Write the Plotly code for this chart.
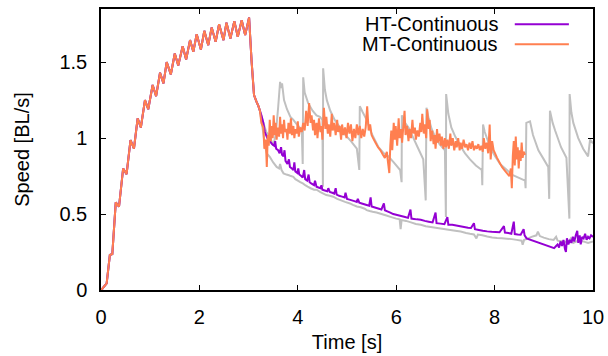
import plotly.graph_objects as go

# Shared acceleration phase (all runs identical until ~3.2 s)
ramp_t = [0.0, 0.03, 0.115, 0.18, 0.23, 0.30, 0.366, 0.45, 0.52, 0.60, 0.67, 0.745, 0.81,
          0.894, 0.96, 1.05, 1.12, 1.20, 1.27, 1.335, 1.42, 1.50, 1.57, 1.66, 1.73, 1.81,
          1.876, 1.945, 2.03, 2.10, 2.18, 2.25, 2.33, 2.40, 2.49, 2.55, 2.63, 2.71, 2.78,
          2.86, 2.93, 3.01, 3.06, 3.11, 3.16, 3.20, 3.23]
ramp_v = [0.0, 0.01, 0.044, 0.23, 0.237, 0.577, 0.548, 0.80, 0.763, 0.987, 0.93, 1.13, 1.07,
          1.25, 1.19, 1.35, 1.276, 1.43, 1.36, 1.50, 1.42, 1.557, 1.478, 1.605, 1.518, 1.645,
          1.568, 1.684, 1.583, 1.706, 1.612, 1.728, 1.634, 1.75, 1.645, 1.76, 1.656, 1.77, 1.667,
          1.776, 1.678, 1.794, 1.51, 1.283, 1.24, 1.21, 1.18]

# HT-Continuous (after split)
ht_t = [3.26, 3.30, 3.33, 3.38, 3.43, 3.48, 3.52, 3.54, 3.56, 3.60, 3.63, 3.66, 3.68, 3.71,
        3.73, 3.75, 3.79, 3.82, 3.84, 3.88, 3.91, 3.93, 3.95, 3.99, 4.01, 4.03, 4.07, 4.10,
        4.13, 4.15, 4.19, 4.22, 4.24, 4.28, 4.33, 4.35, 4.38, 4.42, 4.46, 4.48, 4.50, 4.55,
        4.60, 4.62, 4.65, 4.70, 4.74, 4.77, 4.79, 4.84, 4.90, 4.95, 4.97, 5.00, 5.05, 5.10,
        5.15, 5.20, 5.22, 5.25, 5.30, 5.35, 5.40, 5.45, 5.48, 5.50, 5.55, 5.60, 5.65, 5.70,
        5.75, 5.77, 5.82, 5.88, 5.94, 6.00, 6.06, 6.12, 6.18, 6.24, 6.29, 6.31, 6.36, 6.42,
        6.50, 6.58, 6.66, 6.74, 6.80, 6.82, 6.90, 6.98, 7.04, 7.06, 7.14, 7.22, 7.30, 7.38,
        7.46, 7.52, 7.58, 7.60, 7.68, 7.76, 7.85, 7.94, 8.02, 8.10, 8.19, 8.21, 8.28, 8.34,
        8.39, 8.41, 8.47, 8.53, 8.59, 8.61, 8.65, 9.21, 9.25, 9.28, 9.31, 9.34, 9.37, 9.40,
        9.43, 9.45, 9.47, 9.50, 9.53, 9.56, 9.59, 9.62, 9.65, 9.68, 9.70, 9.73, 9.75, 9.78,
        9.81, 9.84, 9.87, 9.90, 9.93, 9.96, 10.0]
ht_v = [1.15, 1.10, 1.04, 1.00, 0.98, 0.96, 0.95, 0.98, 0.93, 0.92, 0.90, 0.94, 0.89, 0.88,
        0.92, 0.85, 0.83, 0.86, 0.81, 0.80, 0.79, 0.84, 0.78, 0.77, 0.80, 0.76, 0.75, 0.74,
        0.79, 0.73, 0.72, 0.76, 0.71, 0.70, 0.69, 0.72, 0.68, 0.675, 0.67, 0.69, 0.66, 0.655,
        0.65, 0.67, 0.645, 0.64, 0.635, 0.67, 0.628, 0.62, 0.615, 0.61, 0.64, 0.60, 0.595, 0.59,
        0.585, 0.58, 0.60, 0.575, 0.57, 0.565, 0.56, 0.555, 0.61, 0.55, 0.545, 0.54, 0.535, 0.53,
        0.57, 0.525, 0.518, 0.51, 0.50, 0.495, 0.49, 0.485, 0.48, 0.475, 0.53, 0.47, 0.468, 0.465,
        0.463, 0.455, 0.45, 0.445, 0.51, 0.44, 0.437, 0.433, 0.48, 0.43, 0.43, 0.425, 0.42, 0.415,
        0.41, 0.408, 0.44, 0.40, 0.395, 0.39, 0.386, 0.383, 0.382, 0.38, 0.42, 0.378, 0.375, 0.37,
        0.45, 0.368, 0.365, 0.364, 0.40, 0.36, 0.34, 0.276, 0.29, 0.30, 0.28, 0.32, 0.29, 0.33,
        0.27, 0.25, 0.34, 0.30, 0.33, 0.31, 0.35, 0.32, 0.36, 0.39, 0.31, 0.36, 0.30, 0.35,
        0.34, 0.37, 0.33, 0.35, 0.34, 0.36, 0.35]

# MT-Continuous (after split)
mt_t = [3.26, 3.30, 3.32, 3.35, 3.37, 3.39, 3.41, 3.43, 3.45, 3.47, 3.49, 3.51, 3.53, 3.55,
        3.57, 3.59, 3.62, 3.64, 3.66, 3.68, 3.70, 3.72, 3.74, 3.77, 3.79, 3.81, 3.84, 3.86,
        3.88, 3.91, 3.93, 3.95, 3.98, 4.00, 4.02, 4.05, 4.08, 4.11, 4.14, 4.17, 4.20, 4.23,
        4.26, 4.28, 4.31, 4.33, 4.35, 4.38, 4.40, 4.43, 4.46, 4.48, 4.50, 4.53, 4.56, 4.58,
        4.61, 4.63, 4.66, 4.69, 4.71, 4.74, 4.77, 4.80, 4.82, 4.85, 4.88, 4.90, 4.93, 4.96,
        4.99, 5.02, 5.05, 5.08, 5.11, 5.14, 5.17, 5.20, 5.23, 5.26, 5.29, 5.32, 5.35, 5.38,
        5.41, 5.44, 5.47, 5.50, 5.53, 5.58, 5.63, 5.68, 5.73, 5.77, 5.81, 5.83, 5.86, 5.88,
        5.90, 5.92, 5.95, 5.97, 5.99, 6.02, 6.05, 6.07, 6.10, 6.12, 6.15, 6.17, 6.19, 6.22,
        6.25, 6.27, 6.30, 6.33, 6.35, 6.38, 6.40, 6.43, 6.46, 6.49, 6.51, 6.53, 6.56, 6.58,
        6.61, 6.63, 6.66, 6.68, 6.70, 6.73, 6.76, 6.78, 6.80, 6.83, 6.85, 6.88, 6.91, 6.93,
        6.96, 6.99, 7.01, 7.04, 7.07, 7.10, 7.12, 7.15, 7.18, 7.21, 7.23, 7.26, 7.29, 7.31,
        7.34, 7.37, 7.40, 7.43, 7.46, 7.49, 7.52, 7.55, 7.58, 7.61, 7.64, 7.67, 7.70, 7.73,
        7.76, 7.78, 7.81, 7.84, 7.87, 7.90, 7.92, 7.95, 7.98, 8.01, 8.05, 8.10, 8.15, 8.20,
        8.25, 8.30, 8.33, 8.35, 8.37, 8.39, 8.41, 8.43, 8.45, 8.47, 8.49, 8.51, 8.53, 8.55,
        8.57, 8.59, 8.62]
mt_v = [1.10, 1.07, 0.93, 0.99, 0.81, 1.02, 0.95, 1.12, 0.98, 1.08, 1.00, 1.15, 1.02, 1.10,
        0.99, 1.07, 1.01, 1.14, 1.03, 1.09, 1.00, 1.12, 1.04, 1.06, 0.99, 1.10, 1.03, 1.13,
        1.02, 1.08, 1.00, 1.06, 1.03, 1.11, 1.01, 1.07, 1.04, 1.10, 1.05, 1.18, 1.08, 1.23,
        1.10, 1.15, 1.05, 1.12, 1.02, 1.10, 1.00, 1.13, 1.04, 1.08, 0.99, 1.20, 1.06, 1.14,
        1.03, 1.09, 1.01, 1.16, 1.05, 1.10, 1.02, 1.12, 1.04, 1.08, 0.99, 1.09, 1.02, 1.07,
        1.00, 1.10, 1.03, 1.09, 0.98, 1.06, 1.00, 1.09, 1.02, 1.08, 1.00, 1.06, 1.01, 1.07,
        1.21, 1.05, 1.09, 1.02, 1.00, 0.97, 0.94, 0.92, 0.89, 0.87, 0.91, 0.85, 0.77, 0.95,
        1.05, 0.92, 1.10, 0.99, 1.08, 0.95, 1.13, 1.00, 1.06, 0.97, 1.10, 1.18, 1.02, 1.08,
        0.98, 1.06, 1.00, 1.12, 1.03, 1.07, 0.99, 1.05, 1.01, 1.10, 1.04, 1.16, 1.03, 1.09,
        1.00, 1.19, 1.06, 1.12, 0.98, 1.05, 0.96, 1.02, 0.93, 1.06, 0.97, 1.03, 0.95, 1.01,
        0.93, 1.00, 0.94, 0.99, 0.93, 1.03, 0.95, 1.00, 0.92, 0.98, 0.94, 1.00, 0.92, 0.97,
        0.93, 0.99, 0.94, 0.96, 0.92, 0.97, 0.93, 0.98, 0.92, 0.95, 0.93, 0.96, 0.92, 0.95,
        0.91, 1.00, 0.93, 0.97, 0.90, 1.09, 0.86, 0.98, 0.92, 0.90, 0.87, 0.84, 0.81, 0.79,
        0.77, 0.75, 0.80, 0.67, 0.88, 0.98, 0.82, 1.01, 0.86, 0.94, 0.80, 0.92, 0.85, 0.97,
        0.87, 0.91, 0.89]

# Grey reference run following HT (after split)
ref_ht_t = [3.26, 3.30, 3.33, 3.37, 3.43, 3.50, 3.57, 3.62, 3.64, 3.67, 3.71, 3.77, 3.82,
            3.86, 3.91, 3.95, 4.00, 4.05, 4.11, 4.15, 4.20, 4.26, 4.33, 4.38, 4.46, 4.52,
            4.58, 4.65, 4.72, 4.80, 4.88, 4.96, 5.06, 5.12, 5.20, 5.28, 5.36, 5.40, 5.46,
            5.52, 5.60, 5.70, 5.80, 5.90, 6.00, 6.07, 6.09, 6.11, 6.20, 6.30, 6.40, 6.50,
            6.60, 6.70, 6.80, 6.90, 7.00, 7.10, 7.20, 7.31, 7.42, 7.50, 7.58, 7.63, 7.66,
            7.75, 7.85, 7.95, 8.05, 8.15, 8.25, 8.35, 8.45, 8.55, 8.57, 8.60, 8.65, 8.75,
            8.85, 8.88, 8.92, 9.00, 9.10, 9.20, 9.25, 9.28, 9.40, 9.50, 9.55, 9.60, 9.70,
            9.80, 9.90, 10.0]
ref_ht_v = [1.12, 1.03, 0.95, 0.90, 0.877, 0.84, 0.81, 0.80, 0.83, 0.79, 0.768, 0.76, 0.755,
            0.75, 0.745, 0.73, 0.72, 0.71, 0.70, 0.69, 0.68, 0.67, 0.66, 0.66, 0.645, 0.635,
            0.625, 0.62, 0.614, 0.60, 0.59, 0.58, 0.57, 0.56, 0.55, 0.545, 0.535, 0.526, 0.52,
            0.515, 0.51, 0.50, 0.49, 0.48, 0.47, 0.465, 0.40, 0.46, 0.455, 0.445, 0.435, 0.43,
            0.42, 0.415, 0.41, 0.405, 0.40, 0.395, 0.39, 0.385, 0.375, 0.37, 0.366, 0.34, 0.365,
            0.36, 0.352, 0.345, 0.342, 0.34, 0.338, 0.335, 0.33, 0.325, 0.298, 0.33, 0.335, 0.35,
            0.36, 0.385, 0.355, 0.345, 0.335, 0.33, 0.35, 0.325, 0.32, 0.315, 0.34, 0.31, 0.325,
            0.32, 0.31, 0.32]

# Grey reference run following MT (after split)
ref_mt_t = [3.30, 3.36, 3.43, 3.50, 3.55, 3.60, 3.64, 3.66, 3.68, 3.72, 3.78, 3.85, 3.91,
            3.98, 4.04, 4.08, 4.10, 4.11, 4.14, 4.21, 4.30, 4.38, 4.45, 4.50, 4.51, 4.515,
            4.55, 4.59, 4.66, 4.75, 4.86, 4.97, 5.08, 5.20, 5.25, 5.26, 5.32, 5.40, 5.50,
            5.64, 5.75, 5.84, 5.95, 6.08, 6.11, 6.115, 6.18, 6.25, 6.35, 6.45, 6.55, 6.60,
            6.615, 6.66, 6.72, 6.79, 6.88, 6.99, 7.01, 7.015, 7.06, 7.12, 7.20, 7.30, 7.40,
            7.50, 7.62, 7.74, 7.75, 7.765, 7.80, 7.91, 8.01, 8.11, 8.25, 8.35, 8.45, 8.62,
            8.63, 8.645, 8.72, 8.78, 8.89, 9.00, 9.09, 9.11, 9.125, 9.18, 9.23, 9.35, 9.46,
            9.52, 9.525, 9.56, 9.60, 9.70, 9.80, 9.90, 9.94, 10.0]
ref_mt_v = [1.10, 1.04, 1.01, 0.95, 1.02, 1.20, 1.37, 1.33, 1.36, 1.25, 1.19, 1.14, 1.12,
            1.09, 1.07, 1.06, 0.83, 1.40, 1.30, 1.23, 1.18, 1.15, 1.14, 1.12, 0.68, 1.46,
            1.32, 1.25, 1.18, 1.12, 1.07, 1.02, 0.98, 0.93, 0.79, 1.21, 1.17, 1.12, 1.03,
            0.94, 0.90, 0.88, 0.84, 0.79, 0.71, 1.15, 1.10, 1.07, 1.00, 0.93, 0.86, 0.59,
            1.20, 1.13, 1.06, 1.01, 0.96, 0.92, 0.48, 1.29, 1.16, 1.07, 1.01, 0.95, 0.90,
            0.86, 0.82, 0.79, 0.69, 1.09, 1.04, 0.94, 0.88, 0.83, 0.79, 0.76, 0.745, 0.72,
            0.67, 1.10, 1.11, 1.02, 0.92, 0.86, 0.81, 0.60, 1.18, 1.10, 1.05, 0.94, 0.87,
            0.47, 1.29, 1.17, 1.10, 1.00, 0.93, 0.88, 0.99, 0.965]

GREY = "#c0c0c0"
PURPLE = "#9400d3"
ORANGE = "#ff7f50"
FONT = "Liberation Sans, Arial, Helvetica, sans-serif"

fig = go.Figure()
fig.add_trace(go.Scatter(x=ramp_t + ref_mt_t, y=ramp_v + ref_mt_v, mode="lines",
                         line=dict(color=GREY, width=2, simplify=False), showlegend=False,
                         name="MT reference"))
fig.add_trace(go.Scatter(x=ramp_t + ref_ht_t, y=ramp_v + ref_ht_v, mode="lines",
                         line=dict(color=GREY, width=2, simplify=False), showlegend=False,
                         name="HT reference"))
fig.add_trace(go.Scatter(x=ramp_t + ht_t, y=ramp_v + ht_v, mode="lines",
                         line=dict(color=PURPLE, width=2, simplify=False), showlegend=False,
                         name="HT-Continuous"))
fig.add_trace(go.Scatter(x=ramp_t + mt_t, y=ramp_v + mt_v, mode="lines",
                         line=dict(color=ORANGE, width=2, simplify=False), showlegend=False,
                         name="MT-Continuous"))

# gnuplot-style key: text right-aligned, line sample on the right
legend_items = [("HT-Continuous", PURPLE, 0.9456), ("MT-Continuous", ORANGE, 0.8744)]
for label, col, yy in legend_items:
    fig.add_annotation(x=0.811, y=yy, xref="paper", yref="paper", text=label,
                       showarrow=False, xanchor="right", yanchor="middle",
                       font=dict(family=FONT, size=20, color="black"))
    fig.add_shape(type="line", xref="paper", yref="paper", x0=0.841, x1=0.951, y0=yy, y1=yy,
                  line=dict(color=col, width=2))

axis_common = dict(showline=True, linecolor="black", linewidth=1.5, mirror="ticks",
                   ticks="inside", ticklen=5, tickwidth=1, tickcolor="black",
                   showgrid=False, zeroline=False,
                   tickfont=dict(family=FONT, size=20, color="black"))

fig.update_xaxes(range=[0, 10], tickvals=[0, 2, 4, 6, 8, 10], ticklabelstandoff=8,
                 title=dict(text="Time [s]", font=dict(family=FONT, size=20, color="black"),
                            standoff=8),
                 **axis_common)
fig.update_yaxes(range=[0, 1.85], tickvals=[0, 0.5, 1, 1.5], ticktext=["0", "0.5", "1", "1.5"],
                 ticklabelstandoff=8,
                 title=dict(text="Speed [BL/s]", font=dict(family=FONT, size=20, color="black"),
                            standoff=24),
                 **axis_common)

fig.update_layout(width=608, height=356, paper_bgcolor="white", plot_bgcolor="white",
                  margin=dict(l=101, r=15, t=9, b=66, autoexpand=False),
                  font=dict(family=FONT, size=20, color="black"))

fig.write_html("out.html")
